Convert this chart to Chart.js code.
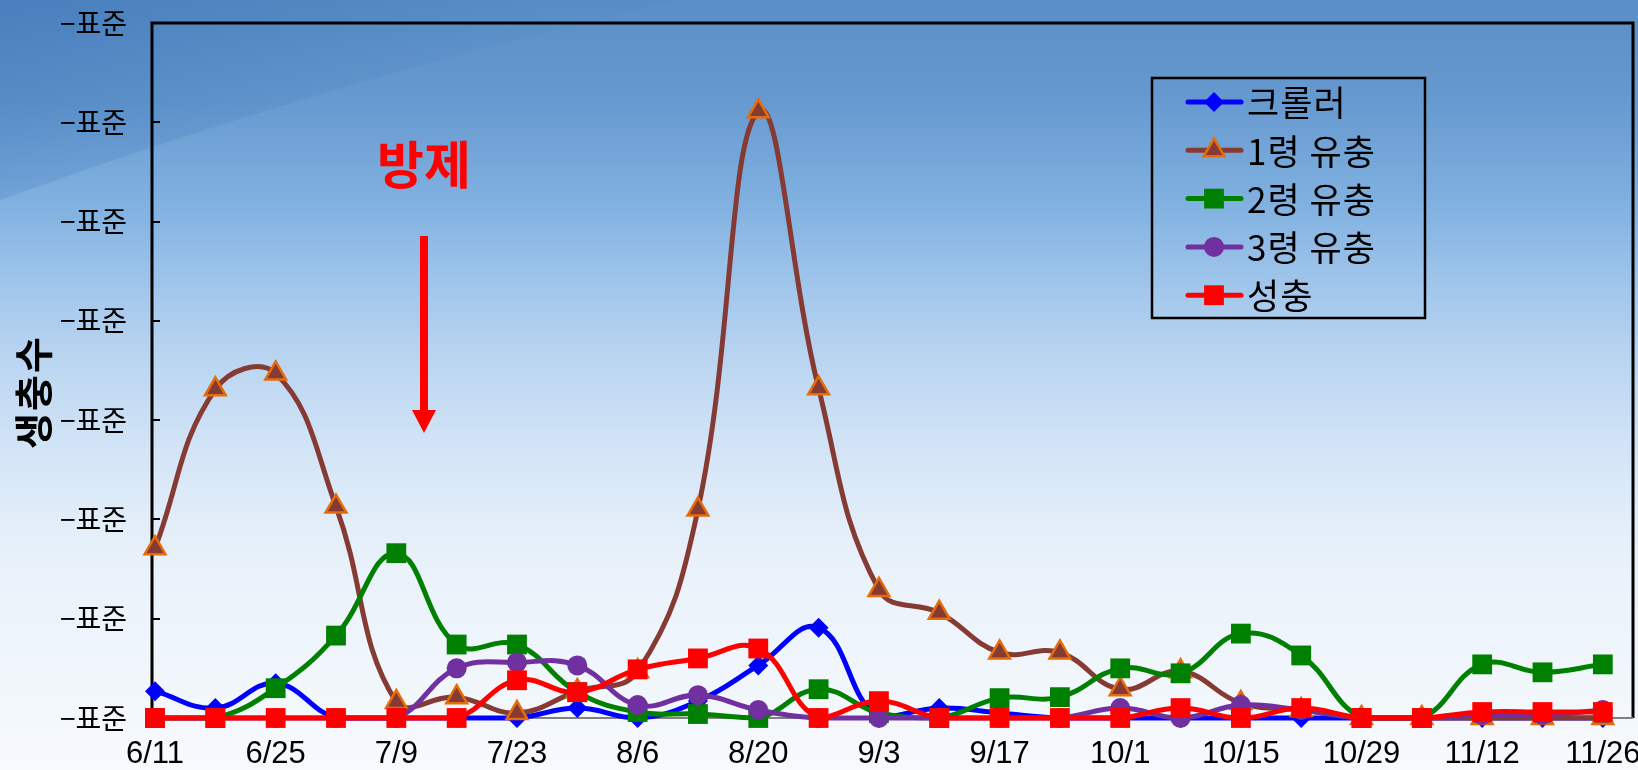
<!DOCTYPE html>
<html>
<head>
<meta charset="utf-8">
<script src="https://cdn.jsdelivr.net/npm/chart.js@4/dist/chart.umd.min.js"></script>
<style>
  html, body { margin: 0; padding: 0; background: #ffffff; }
  #wrap { width: 1638px; height: 770px; position: relative; }
</style>
</head>
<body>
<div id="wrap"><canvas id="c" width="1638" height="770"></canvas></div>
<script>
// Weekly survey dates
const weeks = ['6/11','6/18','6/25','7/2','7/9','7/16','7/23','7/30','8/6','8/13','8/20','8/27',
               '9/3','9/10','9/17','9/24','10/1','10/8','10/15','10/22','10/29','11/5','11/12','11/19','11/26'];

// Counts per stage
const crawler = [0.27,0.10,0.35,0,0,0,0,0.10,0,0.17,0.53,0.91,0,0.10,0.05,0,0,0,0,0,0,0,0,0,0];
const instar1 = [1.71,3.31,3.47,2.13,0.16,0.21,0.05,0.27,0.47,2.10,6.11,3.32,1.29,1.06,0.66,0.66,0.29,0.47,0.15,0.08,0,0,0,0,0];
const instar2 = [0,0,0.30,0.83,1.66,0.74,0.74,0.26,0.06,0.04,0,0.29,0.05,0,0.20,0.21,0.50,0.45,0.85,0.63,0,0,0.54,0.46,0.54];
const instar3 = [0,0,0,0,0,0.50,0.56,0.53,0.13,0.23,0.08,0,0,0,0,0,0.10,0,0.13,0.08,0,0,0.03,0.03,0.08];
const adult   = [0,0,0,0,0,0,0.38,0.26,0.49,0.60,0.70,0,0.17,0,0,0,0,0.10,0,0.10,0,0,0.06,0.06,0.06];

const seriesNames = ['크롤러','1령 유충','2령 유충','3령 유충','성충'];
const yTickLabels = ['−표준','−표준','−표준','−표준','−표준','−표준','−표준','−표준'];
const yTitle = '생충수';
const noteText = '방제';

const KR = '"Noto Sans CJK KR", "Noto Sans", sans-serif';
const toPoints = arr => arr.map((v, i) => ({ x: i, y: v }));

function drawMarker(ctx, style, x, y, r, fill, stroke, bw) {
  ctx.save();
  ctx.beginPath();
  if (style === 'rect') {
    const s = Math.SQRT1_2 * r;
    ctx.rect(x - s, y - s, 2 * s, 2 * s);
  } else if (style === 'rectRot') {
    ctx.moveTo(x, y - r); ctx.lineTo(x + r, y); ctx.lineTo(x, y + r); ctx.lineTo(x - r, y); ctx.closePath();
  } else if (style === 'triangle') {
    for (let k = 0; k < 3; k++) {
      const a = k * 2 * Math.PI / 3;
      const px = x + Math.sin(a) * r, py = y - Math.cos(a) * r;
      if (k === 0) ctx.moveTo(px, py); else ctx.lineTo(px, py);
    }
    ctx.closePath();
  } else {
    ctx.arc(x, y, r, 0, Math.PI * 2);
  }
  ctx.fillStyle = fill;
  ctx.fill();
  if (bw > 0) { ctx.lineWidth = bw; ctx.strokeStyle = stroke; ctx.stroke(); }
  ctx.restore();
}

// Sky-blue backdrop behind everything
const backdrop = {
  id: 'backdrop',
  beforeDraw(chart) {
    const { ctx, width, height } = chart;
    ctx.save();
    const g = ctx.createLinearGradient(0, 0, 0, height);
    g.addColorStop(0.00, '#5a8ec6');
    g.addColorStop(0.13, '#6699cf');
    g.addColorStop(0.26, '#7fb0e0');
    g.addColorStop(0.38, '#a3c7ec');
    g.addColorStop(0.48, '#bdd7f2');
    g.addColorStop(0.60, '#d6e6f7');
    g.addColorStop(0.72, '#e8f1fa');
    g.addColorStop(1.00, '#f7fafd');
    ctx.fillStyle = g;
    ctx.fillRect(0, 0, width, height);
    // darker sweep in the upper-left corner
    ctx.beginPath();
    ctx.moveTo(0, 0);
    ctx.lineTo(680, 0);
    ctx.quadraticCurveTo(330, 80, 0, 200);
    ctx.closePath();
    const g2 = ctx.createLinearGradient(0, 0, 160, 260);
    g2.addColorStop(0, 'rgba(35,95,168,0.32)');
    g2.addColorStop(1, 'rgba(35,95,168,0.04)');
    ctx.fillStyle = g2;
    ctx.fill();
    ctx.restore();
  }
};

// Plot frame and inward y ticks, under the series
const frame = {
  id: 'frame',
  beforeDatasetsDraw(chart) {
    const { ctx, chartArea: a, scales } = chart;
    ctx.save();
    ctx.strokeStyle = '#000';
    ctx.lineWidth = 3;
    ctx.beginPath();
    ctx.moveTo(a.left, a.bottom); ctx.lineTo(a.left, a.top); ctx.lineTo(a.right, a.top); ctx.lineTo(a.right, a.bottom);
    ctx.stroke();
    ctx.strokeStyle = '#808080';
    ctx.lineWidth = 2;
    ctx.beginPath();
    ctx.moveTo(a.left, a.bottom); ctx.lineTo(a.right, a.bottom);
    ctx.stroke();
    ctx.strokeStyle = '#000';
    ctx.lineWidth = 2;
    scales.y.ticks.forEach(t => {
      const py = Math.round(scales.y.getPixelForValue(t.value));
      ctx.beginPath(); ctx.moveTo(a.left, py); ctx.lineTo(a.left + 8, py); ctx.stroke();
    });
    ctx.restore();
  }
};

// Legend box, treatment note and axis title
const overlay = {
  id: 'overlay',
  afterDraw(chart) {
    const { ctx, scales } = chart;
    ctx.save();
    // axis title
    ctx.translate(33, 392);
    ctx.rotate(-Math.PI / 2);
    ctx.fillStyle = '#000';
    ctx.font = 'bold 39px ' + KR;
    ctx.letterSpacing = '2px';
    ctx.textAlign = 'center';
    ctx.textBaseline = 'middle';
    ctx.fillText(yTitle, 0, 0);
    ctx.restore();

    // treatment note with arrow
    ctx.save();
    const ax = Math.round(scales.x.getPixelForValue(4.46));
    ctx.fillStyle = '#ff0000';
    ctx.font = 'bold 51px ' + KR;
    ctx.textAlign = 'center';
    ctx.textBaseline = 'middle';
    ctx.fillText(noteText, ax, 165);
    ctx.fillRect(ax - 4, 236, 8, 176);
    ctx.beginPath();
    ctx.moveTo(ax - 12, 410); ctx.lineTo(ax + 12, 410); ctx.lineTo(ax, 433); ctx.closePath();
    ctx.fill();
    ctx.restore();

    // legend
    ctx.save();
    ctx.strokeStyle = '#000';
    ctx.lineWidth = 2.5;
    ctx.strokeRect(1152, 78, 273, 240);
    ctx.font = '35px ' + KR;
    ctx.letterSpacing = '1px';
    ctx.textAlign = 'left';
    ctx.textBaseline = 'middle';
    chart.data.datasets.forEach((ds, i) => {
      const y = 102 + i * 48.3;
      ctx.strokeStyle = ds.borderColor;
      ctx.lineWidth = 5;
      ctx.lineCap = 'round';
      ctx.beginPath(); ctx.moveTo(1188, y); ctx.lineTo(1241, y); ctx.stroke();
      drawMarker(ctx, ds.pointStyle, 1214, y, ds.pointRadius, ds.pointBackgroundColor, ds.pointBorderColor, ds.pointBorderWidth);
      ctx.fillStyle = '#000';
      ctx.fillText(ds.label, 1247, y + 1);
    });
    ctx.restore();
  }
};

const styles = [
  { color: '#0000ff', fill: '#0000ff', edge: '#0000ff', edgeW: 0,   shape: 'rectRot',  r: 10, order: 5 },
  { color: '#853b33', fill: '#853b33', edge: '#e46c0a', edgeW: 2.5, shape: 'triangle', r: 12, order: 4 },
  { color: '#008000', fill: '#008000', edge: '#008000', edgeW: 0,   shape: 'rect',     r: 14, order: 3 },
  { color: '#7030a0', fill: '#7030a0', edge: '#7030a0', edgeW: 0,   shape: 'circle',   r: 10, order: 2 },
  { color: '#ff0000', fill: '#ff0000', edge: '#ff0000', edgeW: 0,   shape: 'rect',     r: 14, order: 1 }
];
const values = [crawler, instar1, instar2, instar3, adult];

const datasets = values.map((arr, i) => ({
  label: seriesNames[i],
  data: toPoints(arr),
  borderColor: styles[i].color,
  backgroundColor: styles[i].fill,
  borderWidth: 5,
  tension: 0.42,
  pointStyle: styles[i].shape,
  pointRadius: styles[i].r,
  pointHoverRadius: styles[i].r,
  pointBackgroundColor: styles[i].fill,
  pointBorderColor: styles[i].edge,
  pointBorderWidth: styles[i].edgeW,
  order: styles[i].order,
  clip: false
}));

new Chart(document.getElementById('c'), {
  type: 'line',
  data: { datasets },
  plugins: [backdrop, frame, overlay],
  options: {
    responsive: false,
    animation: false,
    events: [],
    layout: { autoPadding: false, padding: { left: 0, right: 5, top: 23, bottom: 0 } },
    plugins: { legend: { display: false }, tooltip: { enabled: false } },
    scales: {
      x: {
        type: 'linear',
        min: -0.05,
        max: 24.5,
        grid: { display: false, drawTicks: false },
        border: { display: false },
        afterBuildTicks: s => { s.ticks = weeks.map((w, i) => ({ value: i })).filter(t => t.value % 2 === 0); },
        afterFit: s => { s.height = 52; s.paddingLeft = 0; s.paddingRight = 0; },
        ticks: {
          autoSkip: false,
          maxRotation: 0,
          padding: 18,
          color: '#000',
          font: { family: '"Liberation Sans", Arial, sans-serif', size: 31 },
          callback: v => weeks[v]
        }
      },
      y: {
        min: 0,
        max: 7,
        grid: { display: false, drawTicks: false },
        border: { display: false },
        afterFit: s => { s.width = 152; s.paddingTop = 0; s.paddingBottom = 0; },
        ticks: {
          stepSize: 1,
          padding: 25,
          color: '#000',
          font: { family: KR, size: 28 },
          callback: (v, i) => yTickLabels[i]
        }
      }
    }
  }
});
</script>
</body>
</html>
